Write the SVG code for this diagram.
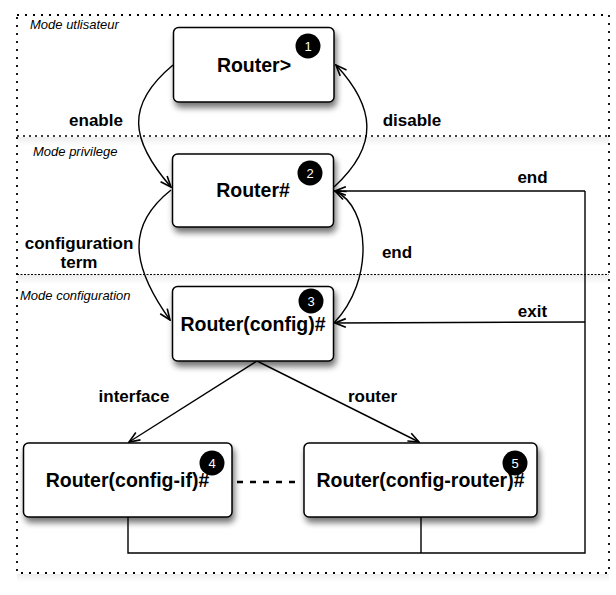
<svg xmlns="http://www.w3.org/2000/svg" width="616" height="595" viewBox="0 0 616 595">
<style>
.box{fill:#fff;stroke:#000;stroke-width:1.5;filter:url(#sh)}
.nt{font-family:"Liberation Sans",Arial,sans-serif;font-weight:bold;font-size:19.5px;text-anchor:middle;fill:#000}
.bd{fill:#000}
.bn{font-family:"Liberation Sans",Arial,sans-serif;font-size:13px;text-anchor:middle;fill:#fff}
.lb{font-family:"Liberation Sans",Arial,sans-serif;font-weight:bold;font-size:17px;text-anchor:middle;fill:#000}
.md{font-family:"Liberation Sans",Arial,sans-serif;font-style:italic;font-size:13px;fill:#000}
.ln{fill:none;stroke:#000;stroke-width:1.4}
.ar{marker-end:url(#arr)}
</style>
<defs>
<filter id="sh" x="-20%" y="-20%" width="150%" height="160%">
<feGaussianBlur in="SourceAlpha" stdDeviation="3"/>
<feOffset dx="2" dy="5" result="b"/>
<feComponentTransfer><feFuncA type="linear" slope="0.55"/></feComponentTransfer>
<feMerge><feMergeNode/><feMergeNode in="SourceGraphic"/></feMerge>
</filter>
<linearGradient id="band" x1="0" y1="0" x2="0" y2="1">
<stop offset="0" stop-color="#000" stop-opacity="0.07"/>
<stop offset="1" stop-color="#000" stop-opacity="0"/>
</linearGradient>
<marker id="arr" viewBox="0 0 12 10" refX="11" refY="5" markerWidth="13" markerHeight="11" markerUnits="userSpaceOnUse" orient="auto">
<path d="M1,1 L11,5 L1,9" fill="none" stroke="#000" stroke-width="1.5"/>
</marker>
</defs>
<rect width="616" height="595" fill="#fff"/>

<g id="zones">
<rect x="17" y="137" width="592" height="9" fill="url(#band)"/>
<rect x="17" y="275" width="592" height="9" fill="url(#band)"/>
<rect x="17" y="574" width="592" height="8" fill="url(#band)"/>
<rect x="17" y="15" width="592" height="558" fill="none" stroke="#000" stroke-width="1.8" stroke-dasharray="2 6"/>
<line x1="17" y1="136" x2="609" y2="136" stroke="#000" stroke-width="1.5" stroke-dasharray="2 4"/>
<line x1="17" y1="274.5" x2="609" y2="274.5" stroke="#000" stroke-width="1" stroke-dasharray="2 1.5"/>
<text class="md" x="30" y="29">Mode utlisateur</text>
<text class="md" x="33" y="156">Mode privilege</text>
<text class="md" x="20" y="300">Mode configuration</text>
</g>

<g id="connectors">
<path class="ln ar" d="M173,65 C125,105 130,140 171,187"/>
<path class="ln ar" d="M334,187 C380,145 375,107 336,65"/>
<path class="ln ar" d="M171,190 C127,225 130,264 170,320"/>
<path class="ln ar" d="M334,323 C375,280 370,207 335,191"/>
<path class="ln ar" d="M585,191 L335,191"/>
<path class="ln ar" d="M585,322 L335,323"/>
<path class="ln" d="M585,191 V553 H128 V517 M421,517 V553"/>
<path class="ln ar" d="M257,361 L129,442"/>
<path class="ln ar" d="M257,361 L419,442"/>
<line x1="237" y1="482" x2="300" y2="482" stroke="#000" stroke-width="2.5" stroke-dasharray="6 7"/>
<text class="lb" x="96" y="126">enable</text>
<text class="lb" x="412" y="126">disable</text>
<text class="lb" x="79" y="249">configuration</text>
<text class="lb" x="79" y="268">term</text>
<text class="lb" x="397" y="258">end</text>
<text class="lb" x="532.5" y="183">end</text>
<text class="lb" x="532.5" y="317">exit</text>
<text class="lb" x="134" y="402">interface</text>
<text class="lb" x="372.5" y="402">router</text>
</g>

<g id="n1">
<rect class="box" x="173.5" y="27.5" width="160.5" height="74.5" rx="5"/>
<circle class="bd" cx="308" cy="46" r="12.5"/>
<text class="bn" x="308" y="50.5">1</text>
<text class="nt" x="254" y="72">Router&gt;</text>
</g>
<g id="n2">
<rect class="box" x="172.5" y="154" width="161" height="73" rx="5"/>
<circle class="bd" cx="310" cy="173" r="12.5"/>
<text class="bn" x="310" y="177.5">2</text>
<text class="nt" x="253" y="197">Router#</text>
</g>
<g id="n3">
<rect class="box" x="172.5" y="286.5" width="161" height="74.5" rx="5"/>
<circle class="bd" cx="311" cy="301" r="12.5"/>
<text class="bn" x="311" y="305.5">3</text>
<text class="nt" x="253" y="331">Router(config)#</text>
</g>
<g id="n4">
<rect class="box" x="23.5" y="443" width="208.5" height="74" rx="5"/>
<circle class="bd" cx="212" cy="463" r="12.5"/>
<text class="bn" x="212" y="467.5">4</text>
<text class="nt" x="127.5" y="487">Router(config-if)#</text>
</g>
<g id="n5">
<rect class="box" x="304" y="443" width="233" height="74" rx="5"/>
<circle class="bd" cx="515" cy="463" r="12.5"/>
<text class="bn" x="515" y="467.5">5</text>
<text class="nt" x="420.5" y="487">Router(config-router)#</text>
</g>
</svg>
